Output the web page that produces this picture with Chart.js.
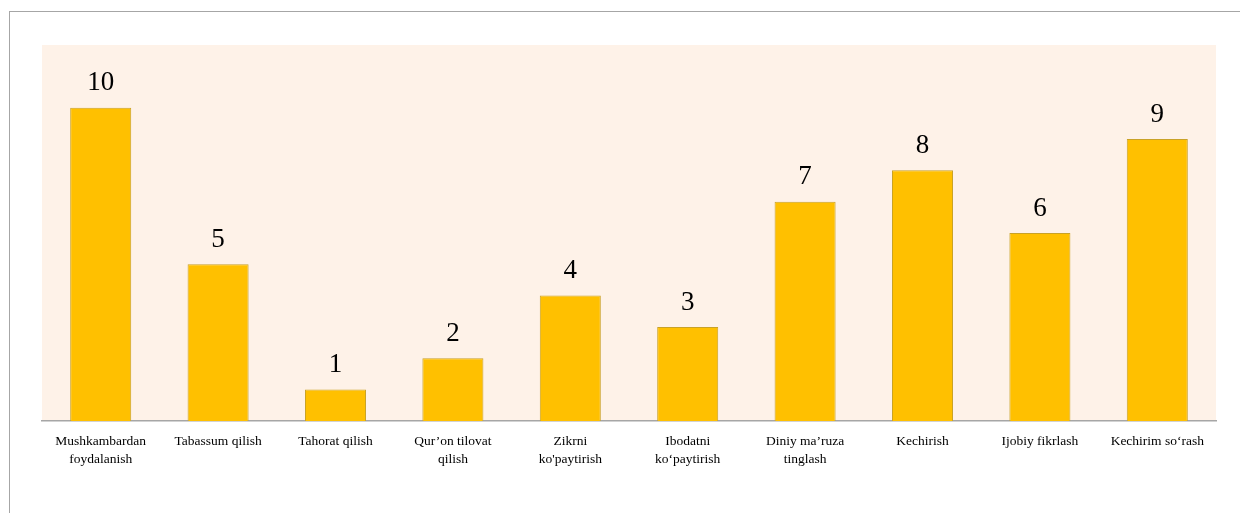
<!DOCTYPE html>
<html>
<head>
<meta charset="utf-8">
<script src="https://cdn.jsdelivr.net/npm/chart.js@4/dist/chart.umd.min.js"></script>
<style>
  html, body { margin: 0; padding: 0; background: #fff; }
  #wrap { position: relative; width: 1240px; height: 513px; }
  #frame { position: absolute; left: 9px; top: 11px; width: 1300px; height: 600px;
           border-left: 1px solid #a6a6a6; border-top: 1px solid #a6a6a6; }
  canvas { position: absolute; left: 0; top: 0; }
</style>
</head>
<body>
<div id="wrap">
  <div id="frame"></div>
  <canvas id="chart" width="1240" height="513"></canvas>
</div>
<script>
const categories = [
  ['Mushkambardan', 'foydalanish'],
  'Tabassum qilish',
  'Tahorat qilish',
  ['Qur\u2019on tilovat', 'qilish'],
  ['Zikrni', 'ko\'paytirish'],
  ['Ibodatni', 'ko\u2018paytirish'],
  ['Diniy ma\u2019ruza', 'tinglash'],
  'Kechirish',
  'Ijobiy fikrlash',
  'Kechirim so\u2018rash'
]
const values = [10, 5, 1, 2, 4, 3, 7, 8, 6, 9]

// plot background + value labels
const extras = {
  id: 'extras',
  beforeDraw(chart) {
    const { ctx, chartArea: a } = chart
    ctx.save()
    ctx.fillStyle = '#fef2e8'
    ctx.fillRect(a.left, a.top, a.right - a.left, a.bottom - a.top)
    ctx.restore()
  },
  afterDatasetsDraw(chart) {
    const { ctx } = chart
    const meta = chart.getDatasetMeta(0)
    ctx.save()
    ctx.font = '27px "Liberation Serif"'
    ctx.fillStyle = '#000'
    ctx.textAlign = 'center'
    ctx.textBaseline = 'bottom'
    meta.data.forEach((bar, i) => {
      ctx.fillText(values[i], bar.x, bar.y - 11)
    })
    ctx.restore()
  }
}

const ctx = document.getElementById('chart')
new Chart(ctx, {
  type: 'bar',
  data: {
    labels: categories,
    datasets: [{
      data: values,
      backgroundColor: '#ffc000',
      borderColor: '#c9a227',
      borderWidth: 1,
      categoryPercentage: 1,
      barPercentage: 0.52
    }]
  },
  options: {
    responsive: false,
    animation: false,
    layout: { padding: { left: 42, right: 24, top: 45, bottom: 33 } },
    plugins: {
      legend: { display: false },
      tooltip: { enabled: false }
    },
    scales: {
      y: {
        display: false,
        min: 0,
        max: 12
      },
      x: {
        grid: { display: false, drawTicks: false },
        border: { display: true, color: '#a6a6a6', width: 1.5 },
        ticks: {
          color: '#000',
          padding: 12,
          maxRotation: 0,
          autoSkip: false,
          font: { family: 'Liberation Serif', size: 13.5, lineHeight: 1.3 }
        }
      }
    }
  },
  plugins: [extras]
})
</script>
</body>
</html>
